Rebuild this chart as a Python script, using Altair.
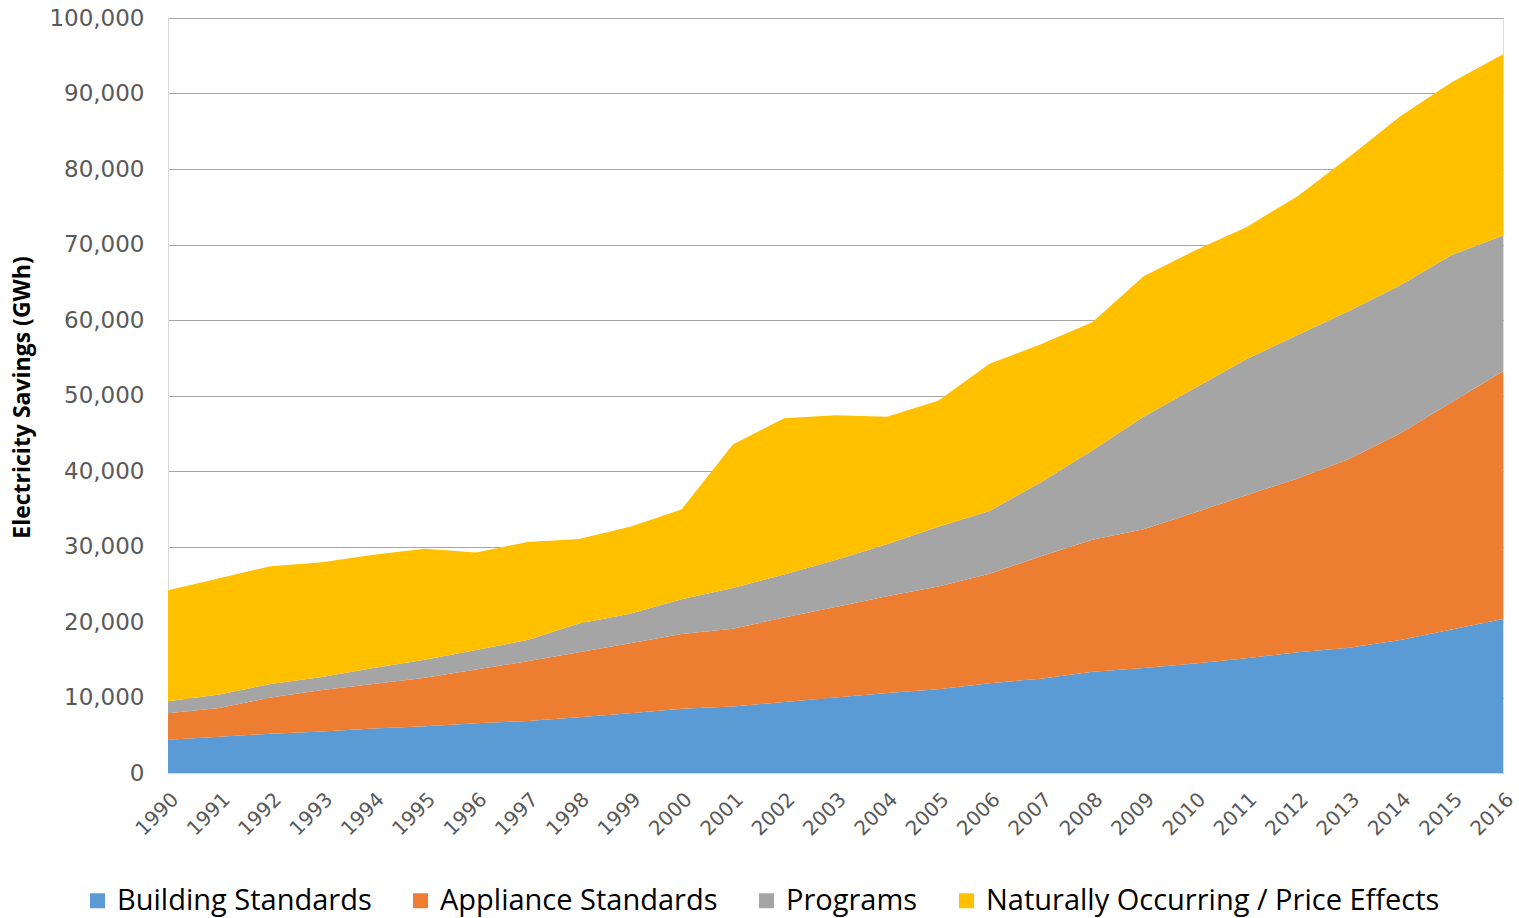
import altair as alt
import pandas as pd

years = list(range(1990, 2017))
building = [4400, 4800, 5200, 5500, 5900, 6200, 6600, 6900, 7400, 7900, 8500, 8800, 9400, 10000,
            10600, 11100, 11900, 12500, 13400, 13900, 14500, 15200, 16000, 16600, 17600, 19000, 20400]
appliance = [3500, 3800, 4800, 5500, 5900, 6400, 7100, 7900, 8600, 9300, 9900, 10300, 11200, 12000,
             12800, 13600, 14500, 16200, 17500, 18400, 20000, 21600, 23000, 25000, 27400, 30100, 32800]
programs = [1600, 1800, 1800, 1700, 2100, 2400, 2600, 2800, 3800, 3900, 4600, 5400, 5700, 6200,
            6900, 7900, 8300, 9800, 11800, 14900, 16500, 18000, 19000, 19600, 19600, 19500, 18000]
natural = [14700, 15400, 15600, 15200, 15000, 14700, 12900, 13000, 11200, 11500, 11900, 19000, 20700, 19200,
           16900, 16700, 19500, 18300, 17000, 18600, 18200, 17500, 18400, 20400, 22400, 22900, 24000]

series_names = ["Building Standards", "Appliance Standards", "Programs",
                "Naturally Occurring / Price Effects"]
series_colors = ["#5B9BD5", "#ED7D31", "#A5A5A5", "#FFC000"]
series_values = [building, appliance, programs, natural]

rows = []
for k, (name, vals) in enumerate(zip(series_names, series_values)):
    for y, v in zip(years, vals):
        rows.append({"year": y, "value": v, "series": name, "k": k})
df = pd.DataFrame(rows)

chart = alt.Chart(df).mark_area(opacity=1).encode(
    x=alt.X("year:Q",
            scale=alt.Scale(domain=[1990, 2016], nice=False, zero=False),
            axis=alt.Axis(values=years, format="d", labelAngle=-45, title=None,
                          grid=False, ticks=False, labelFontSize=20, labelFont="DejaVu Sans",
                          labelColor="#595959", domainColor="#D9D9D9", labelPadding=16,
                          labelAlign="right", labelBaseline="top", labelOverlap=False)),
    y=alt.Y("value:Q", stack="zero",
            scale=alt.Scale(domain=[0, 100000], nice=False),
            axis=alt.Axis(values=list(range(0, 100001, 10000)), format=",d",
                          title="Electricity Savings (GWh)", titleFont="Open Sans",
                          titleFontSize=23, titleFontWeight="bold", titleColor="#000000",
                          titleX=-134, titleY=379, titleAngle=-90,
                          labelFontSize=23, labelFont="DejaVu Sans", labelColor="#595959",
                          labelPadding=24, ticks=False, domainColor="#D9D9D9",
                          gridColor="#A6A6A6", gridWidth=1, labelOverlap=False)),
    color=alt.Color("series:N",
                    scale=alt.Scale(domain=series_names, range=series_colors),
                    sort=series_names,
                    legend=alt.Legend(title=None, orient="none", direction="horizontal",
                                      legendX=-85, legendY=868, symbolType="square",
                                      symbolSize=225, symbolStrokeWidth=0,
                                      labelFontSize=29, labelFont="Open Sans", labelLimit=0,
                                      labelColor="#000000", columnPadding=34,
                                      symbolOffset=0, labelOffset=5)),
    order=alt.Order("k:Q", sort="ascending"),
).properties(
    width=1335, height=755,
    autosize=alt.AutoSizeParams(type="none"),
    padding={"left": 168, "top": 18, "right": 16, "bottom": 145},
).configure_view(stroke=None).configure(background="white")

chart.save("out.html", embed_options={"renderer": "svg", "actions": False})
